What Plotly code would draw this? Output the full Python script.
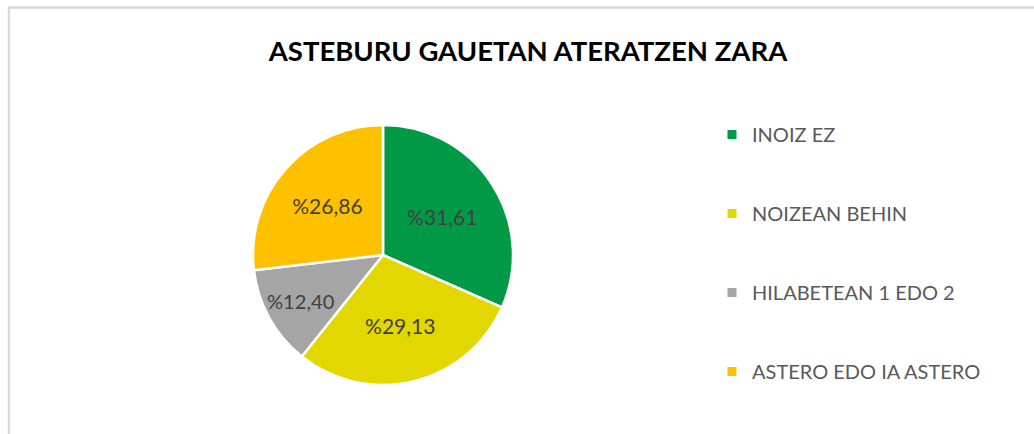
import plotly.graph_objects as go

title = "ASTEBURU GAUETAN ATERATZEN ZARA"
categories = ["INOIZ EZ", "NOIZEAN BEHIN", "HILABETEAN 1 EDO 2", "ASTERO EDO IA ASTERO"]
values = [31.61, 29.13, 12.40, 26.86]
colors = ["#009A46", "#E2D800", "#A5A5A5", "#FFC000"]

W, H = 1034, 434
labels_txt = ["%" + f"{v:.2f}".replace(".", ",") for v in values]

fig = go.Figure()
cx, cy, r = 383, 255, 130
fig.add_trace(go.Pie(
    labels=categories, values=values, sort=False, direction="clockwise", rotation=0,
    marker=dict(colors=colors, line=dict(color="white", width=2.5)),
    text=labels_txt, textinfo="text", textposition="inside",
    insidetextorientation="horizontal",
    textfont=dict(family="Lato, Calibri, sans-serif", size=21, color="#404040"),
    showlegend=False, hoverinfo="label+percent",
    domain=dict(x=[(cx - r) / W, (cx + r) / W], y=[(H - cy - r) / H, (H - cy + r) / H]),
))
for c, col in zip(categories, colors):
    fig.add_trace(go.Scatter(
        x=[None], y=[None], mode="markers", name=c, legendgroup=c,
        marker=dict(symbol="square", size=9, color=col), showlegend=True,
    ))

fig.update_layout(
    width=W, height=H, margin=dict(l=0, r=0, t=0, b=0),
    paper_bgcolor="white", plot_bgcolor="white",
    title=dict(text="<b>" + title + "</b>", x=528 / W, xanchor="center", y=1 - 51 / H, yanchor="middle",
               font=dict(family="Lato, Calibri, sans-serif", size=27.5, color="#000000")),
    xaxis=dict(visible=False), yaxis=dict(visible=False),
    legend=dict(x=712 / W, xanchor="left", y=1 - 115 / H, yanchor="top",
                font=dict(family="Lato, Calibri, sans-serif", size=20, color="#595959"),
                tracegroupgap=50, bgcolor="rgba(0,0,0,0)"),
    shapes=[
        dict(type="line", xref="paper", yref="paper", x0=8 / W, x1=1, y0=1 - 7.5 / H, y1=1 - 7.5 / H,
             line=dict(color="#D9D9D9", width=2.5)),
        dict(type="line", xref="paper", yref="paper", x0=9 / W, x1=9 / W, y0=0, y1=1 - 7.5 / H,
             line=dict(color="#D9D9D9", width=2.5)),
    ],
)
fig.write_html("out.html", config={"displayModeBar": False},
               post_script="document.body.style.margin='0';document.body.style.overflow='hidden';")
